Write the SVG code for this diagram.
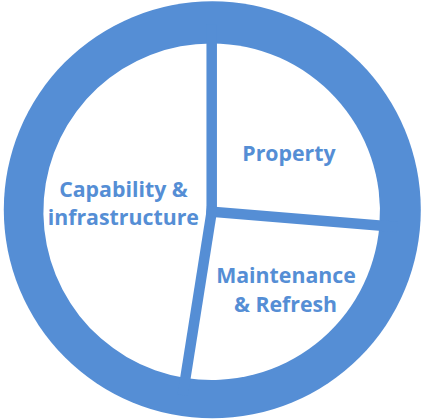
<svg xmlns="http://www.w3.org/2000/svg" width="421" height="419" viewBox="0 0 421 419">
  <style>
    .ring { fill: #558ed5; }
    .sector { fill: #ffffff; }
    .divider { stroke: #558ed5; stroke-width: 10.5; stroke-linecap: square; fill: none; }
    .label { font-family: "Open Sans", "Noto Sans", "Liberation Sans", sans-serif; font-weight: 700; font-size: 21.3px; fill: #558ed5; text-anchor: middle; }
  </style>

  <!-- outer blue ring -->
  <circle class="ring" cx="212.3" cy="209.8" r="208.5"/>

  <g id="property">
    <path class="sector" d="M211.7 211.7 L211.7 43.4 A168.3 168.3 0 0 1 379.43 225.49 Z"/>
    <text class="label" x="289" y="161">Property</text>
  </g>

  <g id="maintenance-refresh">
    <path class="sector" d="M211.7 211.7 L379.43 225.49 A168.3 168.3 0 0 1 185.37 377.93 Z"/>
    <text class="label" x="286" y="283">Maintenance</text>
    <text class="label" x="285.5" y="311.5">&amp; Refresh</text>
  </g>

  <g id="capability-infrastructure">
    <path class="sector" d="M211.7 211.7 L185.37 377.93 A168.3 168.3 0 0 1 211.7 43.4 Z"/>
    <text class="label" x="123.5" y="197">Capability &amp;</text>
    <text class="label" x="123.3" y="225">infrastructure</text>
  </g>

  <!-- sector dividers -->
  <g id="connectors">
    <line class="divider" x1="211.7" y1="211.7" x2="211.7" y2="30"/>
    <line class="divider" x1="211.7" y1="211.7" x2="392" y2="226.5"/>
    <line class="divider" x1="211.7" y1="211.7" x2="183.5" y2="390"/>
  </g>
</svg>
